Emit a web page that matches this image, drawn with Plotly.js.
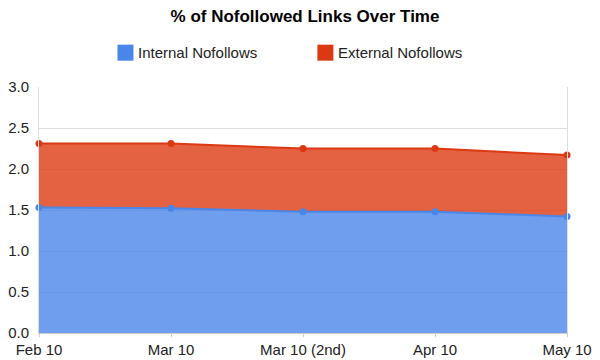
<!DOCTYPE html>
<html>
<head>
<meta charset="utf-8">
<script src="https://cdn.plot.ly/plotly-3.0.1.min.js"></script>
<style>html,body{margin:0;padding:0;background:#fff}#chart{width:600px;height:360px}</style>
</head>
<body>
<div id="chart"></div>
<script>
const categories = ["Feb 10", "Mar 10", "Mar 10 (2nd)", "Apr 10", "May 10"];
const internalNofollows = [1.53, 1.52, 1.48, 1.48, 1.42];
const externalNofollows = [0.78, 0.79, 0.77, 0.77, 0.75];
const seriesNames = ["Internal Nofollows", "External Nofollows"];
const yTickVals = [0, 0.5, 1, 1.5, 2, 2.5, 3];
const yTickText = ["0.0", "0.5", "1.0", "1.5", "2.0", "2.5", "3.0"];
const chartTitle = "% of Nofollowed Links Over Time";

const W = 600, H = 360;
const M = {l: 38.5, r: 33.3, t: 87.3, b: 27};
const pw = W - M.l - M.r, ph = H - M.t - M.b;
const px2x = p => (p - M.l) / pw;
const px2y = p => (H - M.b - p) / ph;

const lineColors = ["#4a86e8", "#dc3912"];
const fillColors = ["rgba(74,134,232,0.8)", "rgba(221,58,18,0.8)"];

const traces = [
  {x: categories, y: internalNofollows, name: seriesNames[0], type: "scatter", mode: "lines+markers",
   stackgroup: "one", fillcolor: fillColors[0], line: {color: lineColors[0], width: 2},
   marker: {color: lineColors[0], size: 7}, showlegend: false, hoverinfo: "x+y", cliponaxis: false},
  {x: categories, y: externalNofollows, name: seriesNames[1], type: "scatter", mode: "lines+markers",
   stackgroup: "one", fillcolor: fillColors[1], line: {color: lineColors[1], width: 2},
   marker: {color: lineColors[1], size: 7}, showlegend: false, hoverinfo: "x+y", cliponaxis: false}
];

// custom legend (paper coordinates)
const legendY = 53;
const legendItems = [{sq: 117, tx: 136}, {sq: 317, tx: 336}];
const shapes = legendItems.map((it, i) => ({
  type: "rect", xref: "paper", yref: "paper",
  x0: px2x(it.sq), x1: px2x(it.sq + 16), y0: px2y(legendY - 8), y1: px2y(legendY + 8),
  fillcolor: lineColors[i], line: {width: 0}
}));
const annotations = legendItems.map((it, i) => ({
  xref: "paper", yref: "paper", x: px2x(it.tx), y: px2y(legendY), xanchor: "left", yanchor: "middle",
  text: seriesNames[i], showarrow: false, font: {family: "Liberation Sans, Arial, sans-serif", size: 15, color: "#222"}
}));

const layout = {
  width: W, height: H,
  margin: M,
  paper_bgcolor: "#fff", plot_bgcolor: "#fff",
  font: {family: "Liberation Sans, Arial, sans-serif", size: 14, color: "#222"},
  title: {text: "<b>" + chartTitle + "</b>", x: 305 / W, xanchor: "center", y: 1 - 16 / H, yanchor: "middle",
          font: {family: "Liberation Sans, Arial, sans-serif", size: 17, color: "#000"}},
  showlegend: false,
  xaxis: {type: "category", range: [0, categories.length - 1], showgrid: false, zeroline: false,
          showline: true, linecolor: "#ccc", linewidth: 1, ticks: "outside", ticklen: 3, tickcolor: "#ccc",
          tickfont: {size: 15, color: "#222"}, fixedrange: true},
  yaxis: {range: [0, 3], tickvals: yTickVals, ticktext: yTickText, showgrid: true, gridcolor: "#ddd", gridwidth: 1,
          zeroline: false, showline: true, linecolor: "#ddd", mirror: true, ticks: "", ticklabelstandoff: 6,
          tickfont: {size: 15, color: "#222"}, fixedrange: true},
  shapes: shapes,
  annotations: annotations
};

Plotly.newPlot("chart", traces, layout, {displayModeBar: false, staticPlot: true});
</script>
</body>
</html>
